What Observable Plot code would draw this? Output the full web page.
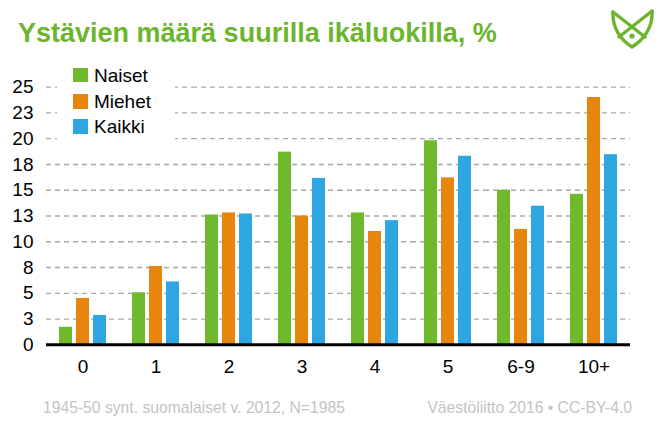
<!DOCTYPE html>
<html><head><meta charset="utf-8">
<script src="https://cdn.jsdelivr.net/npm/d3@7"></script>
<script src="https://cdn.jsdelivr.net/npm/@observablehq/plot@0.6"></script>
<style>
body{margin:0;background:#fff;font-family:"Liberation Sans",Arial,sans-serif;}
#wrap{position:relative;width:662px;height:440px;overflow:hidden;background:#fff;}
#chart{position:absolute;left:0;top:0;}
.abs{position:absolute;white-space:nowrap;line-height:1;}
#title{left:18px;top:20px;font-size:27px;font-weight:bold;color:#6cb52d;}
#legend{position:absolute;left:57px;top:62px;width:118px;height:80px;background:#fff;}
.sw{position:absolute;left:16px;width:14.6px;height:14.6px;}
.lt{position:absolute;left:37px;font-size:19px;line-height:1;color:#000;}
.foot{top:400px;font-size:15.7px;color:#c4c4c4;}
#logo{position:absolute;left:611px;top:9px;}
</style></head>
<body>
<div id="wrap">
  <div id="chart"></div>
  <div id="title" class="abs">Ystävien määrä suurilla ikäluokilla, %</div>
  <div id="legend"></div>
  <div class="abs foot" style="left:43px;">1945-50 synt. suomalaiset v. 2012, N=1985</div>
  <div class="abs foot" style="right:30px;">Väestöliitto 2016 • CC-BY-4.0</div>
  <svg id="logo" width="43" height="40" viewBox="0 0 43 40">
    <g fill="none" stroke="#6cb52d" stroke-width="3.4" stroke-linejoin="round" stroke-linecap="round">
      <path d="M2,3 C1,19 10,31 21,38 C32,31 42,19 41,2"/>
      <path d="M2,3 L34,28"/>
      <path d="M41,2 L8,28"/>
    </g>
    <circle cx="21" cy="27" r="2.6" fill="#6cb52d"/>
  </svg>
</div>
<script>
const categories = ["0", "1", "2", "3", "4", "5", "6-9", "10+"];
const series = ["Naiset", "Miehet", "Kaikki"];
const naiset = [1.7, 5.05, 12.6, 18.7, 12.8, 19.8, 15.0, 14.6];
const miehet = [4.5, 7.6, 12.8, 12.5, 11.0, 16.2, 11.2, 24.0];
const kaikki = [2.85, 6.1, 12.7, 16.15, 12.05, 18.3, 13.45, 18.45];
const colors = ["#6fba2c", "#e8850c", "#2ea6e2"];
const yTicks = [0, 2.5, 5, 7.5, 10, 12.5, 15, 17.5, 20, 22.5, 25];

const seriesValues = [naiset, miehet, kaikki];
const data = categories.flatMap((c, i) =>
  series.map((s, j) => ({cat: c, series: s, value: seriesValues[j][i]}))
);

const chart = Plot.plot({
  width: 662,
  height: 440,
  marginTop: 86.7,
  marginBottom: 95.7,
  marginLeft: 43,
  marginRight: 30,
  style: {fontFamily: '"Liberation Sans", Arial, sans-serif', fontSize: "19px", color: "#000", background: "transparent", overflow: "visible"},
  fx: {domain: categories, paddingInner: 0, paddingOuter: 0, label: null},
  x: {domain: series, paddingInner: 0.25, paddingOuter: 0.765, axis: null},
  y: {domain: [0, 25], label: null},
  color: {domain: series, range: colors},
  marks: [
    Plot.ruleY(yTicks.filter(d => d > 0), {stroke: "#a8a8a8", strokeWidth: 1.3, strokeDasharray: "5,4"}),
    Plot.barY(data, {fx: "cat", x: "series", y: "value", fill: "series"}),
    Plot.ruleY([0], {stroke: "#000", strokeWidth: 3}),
    Plot.axisY({ticks: yTicks, tickFormat: d => String(Math.round(d)), tickSize: 0, tickPadding: 13, fontSize: 19, label: null, anchor: "left"}),
    Plot.axisFx({anchor: "bottom", tickSize: 0, tickPadding: 15, fontSize: 19, label: null})
  ]
});
document.getElementById("chart").appendChild(chart);

const legend = document.getElementById("legend");
const rowCenters = [13, 39.7, 64.7];
series.forEach((s, i) => {
  const sw = document.createElement("div");
  sw.className = "sw";
  sw.style.top = (rowCenters[i] - 7.3) + "px";
  sw.style.background = colors[i];
  legend.appendChild(sw);
  const t = document.createElement("div");
  t.className = "lt";
  t.style.top = (rowCenters[i] - 9.3) + "px";
  t.textContent = s;
  legend.appendChild(t);
});
</script>
</body></html>
